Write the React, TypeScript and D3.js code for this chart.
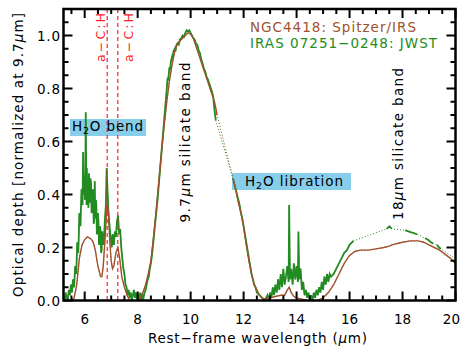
import React from "react";
import * as d3 from "d3";

// NGC4418 Spitzer/IRS optical depth spectrum: [wavelength µm, tau]
const ngcA: [number, number][] = [
  [5.5, 0.0], [5.6, 0.01], [5.7, 0.06], [5.8, 0.16], [5.9, 0.21], [6.0, 0.23], [6.1, 0.24],
  [6.2, 0.235], [6.3, 0.225], [6.35, 0.21], [6.4, 0.19], [6.5, 0.13], [6.6, 0.09], [6.65, 0.09],
  [6.7, 0.13], [6.78, 0.25], [6.85, 0.37], [6.9, 0.33], [6.95, 0.22], [7.0, 0.15], [7.05, 0.12],
  [7.1, 0.13], [7.18, 0.18], [7.25, 0.2], [7.32, 0.16], [7.4, 0.09], [7.5, 0.05], [7.6, 0.02],
  [7.7, 0.0], [7.9, -0.005], [8.0, 0.0], [8.1, 0.01], [8.2, 0.03], [8.3, 0.06], [8.4, 0.1],
  [8.5, 0.15], [8.6, 0.24], [8.7, 0.34], [8.8, 0.45], [8.9, 0.56], [9.0, 0.66], [9.1, 0.75],
  [9.2, 0.83], [9.3, 0.89], [9.4, 0.94], [9.5, 0.97], [9.6, 0.98], [9.7, 0.99], [9.8, 1.0],
  [9.9, 1.01], [10.0, 1.005], [10.1, 0.99], [10.2, 0.96], [10.3, 0.93], [10.4, 0.9], [10.5, 0.87],
  [10.6, 0.84], [10.7, 0.81], [10.8, 0.78], [10.9, 0.75], [11.0, 0.7],
];
const ngcB: [number, number][] = [
  [11.6, 0.46], [11.7, 0.42], [11.8, 0.37], [11.9, 0.33], [12.0, 0.28], [12.1, 0.21], [12.2, 0.15],
  [12.3, 0.1], [12.4, 0.06], [12.5, 0.04], [12.6, 0.02], [12.7, 0.01], [12.8, 0.005], [13.0, 0.01],
  [13.2, 0.015], [13.4, 0.02], [13.55, 0.02], [13.65, 0.04], [13.72, 0.05], [13.8, 0.03],
  [13.9, 0.015], [14.0, 0.01], [14.2, 0.005], [14.4, 0.0], [14.6, -0.003], [14.8, 0.0], [15.0, 0.01],
  [15.2, 0.03], [15.4, 0.06], [15.6, 0.1], [15.8, 0.14], [16.0, 0.17], [16.2, 0.185], [16.4, 0.19],
  [16.7, 0.19], [17.0, 0.195], [17.3, 0.2], [17.5, 0.205], [17.6, 0.21], [17.8, 0.215],
  [18.0, 0.22], [18.3, 0.225], [18.6, 0.225], [18.8, 0.22], [19.0, 0.21], [19.2, 0.2],
  [19.4, 0.19], [19.6, 0.175], [19.8, 0.16], [20.0, 0.14],
];

// IRAS 07251-0248 JWST optical depth spectrum, solid (measured) stretches
const irasA: [number, number][] = [
  [5.2, 0.01], [5.24, 0.0], [5.28, 0.03], [5.32, 0.01], [5.36, 0.0], [5.4, 0.04], [5.44, 0.02],
  [5.48, 0.06], [5.52, 0.03], [5.56, 0.08], [5.6, 0.05], [5.64, 0.13], [5.68, 0.1], [5.72, 0.22],
  [5.76, 0.18], [5.8, 0.33], [5.84, 0.28], [5.88, 0.42], [5.92, 0.36], [5.94, 0.56], [5.96, 0.4],
  [6.0, 0.47], [6.01, 0.38], [6.02, 0.42], [6.04, 0.71], [6.06, 0.44], [6.07, 0.36], [6.08, 0.5],
  [6.1, 0.39], [6.12, 0.43], [6.14, 0.35], [6.16, 0.48], [6.18, 0.37], [6.2, 0.38], [6.22, 0.46],
  [6.24, 0.44], [6.26, 0.33], [6.28, 0.34], [6.3, 0.42], [6.32, 0.4], [6.34, 0.29], [6.36, 0.3],
  [6.38, 0.45], [6.4, 0.31], [6.42, 0.38], [6.44, 0.36], [6.46, 0.25], [6.48, 0.26], [6.5, 0.33],
  [6.52, 0.3], [6.54, 0.21], [6.56, 0.22], [6.58, 0.28], [6.6, 0.26], [6.62, 0.18], [6.64, 0.19],
  [6.66, 0.26], [6.68, 0.24], [6.72, 0.21], [6.76, 0.3], [6.8, 0.36], [6.83, 0.5], [6.86, 0.42],
  [6.9, 0.33], [6.94, 0.28], [6.98, 0.24], [7.02, 0.2], [7.06, 0.25], [7.1, 0.21], [7.14, 0.26],
  [7.18, 0.24], [7.22, 0.3], [7.26, 0.32], [7.3, 0.25], [7.34, 0.27], [7.38, 0.2], [7.42, 0.16],
  [7.46, 0.12], [7.5, 0.1], [7.54, 0.06], [7.58, 0.05], [7.62, 0.02], [7.66, 0.04], [7.7, 0.01],
  [7.74, 0.03], [7.78, 0.0], [7.82, 0.02], [7.86, 0.04], [7.9, 0.01], [7.94, 0.03], [7.98, 0.0],
  [8.02, 0.02], [8.06, 0.01], [8.1, 0.03], [8.14, 0.0], [8.18, 0.02], [8.22, 0.01], [8.26, 0.03],
  [8.3, 0.04], [8.34, 0.06], [8.38, 0.08], [8.42, 0.09], [8.46, 0.12], [8.5, 0.14], [8.55, 0.18],
  [8.6, 0.23], [8.65, 0.28], [8.7, 0.33], [8.75, 0.38], [8.8, 0.44], [8.85, 0.5], [8.9, 0.56],
  [8.95, 0.62], [9.0, 0.68], [9.05, 0.74], [9.1, 0.8], [9.13, 0.84], [9.15, 0.83], [9.2, 0.88],
  [9.23, 0.87], [9.25, 0.9], [9.3, 0.92], [9.33, 0.91], [9.35, 0.94], [9.4, 0.95], [9.43, 0.94],
  [9.45, 0.96], [9.5, 0.97], [9.55, 0.965], [9.6, 0.985], [9.65, 0.99], [9.7, 1.0], [9.75, 0.995],
  [9.8, 1.01], [9.85, 1.02], [9.9, 1.015], [9.95, 1.02], [10.0, 1.01], [10.05, 1.0], [10.1, 0.99],
  [10.15, 0.985], [10.2, 0.97], [10.25, 0.965], [10.3, 0.945], [10.35, 0.935], [10.4, 0.91],
  [10.45, 0.895], [10.5, 0.875], [10.55, 0.865], [10.6, 0.845], [10.65, 0.835], [10.7, 0.82],
  [10.75, 0.805], [10.8, 0.79], [10.85, 0.77], [10.9, 0.72], [10.95, 0.68],
];
const irasB: [number, number][] = [
  [11.6, 0.46], [11.65, 0.44], [11.7, 0.42], [11.75, 0.4], [11.8, 0.38], [11.85, 0.36], [11.9, 0.33],
  [11.95, 0.31], [12.0, 0.28], [12.05, 0.25], [12.1, 0.22], [12.15, 0.19], [12.2, 0.16],
  [12.25, 0.13], [12.3, 0.1], [12.35, 0.08], [12.4, 0.06], [12.45, 0.05], [12.5, 0.03], [12.6, 0.02],
  [12.7, 0.01], [12.8, 0.0], [12.9, 0.02], [12.95, 0.0], [13.0, 0.03], [13.05, 0.01], [13.1, 0.05],
  [13.15, 0.02], [13.2, 0.06], [13.25, 0.03], [13.3, 0.08], [13.35, 0.04], [13.4, 0.1], [13.45, 0.05],
  [13.5, 0.12], [13.55, 0.06], [13.6, 0.09], [13.65, 0.13], [13.7, 0.07], [13.72, 0.36],
  [13.75, 0.08], [13.8, 0.12], [13.85, 0.06], [13.9, 0.14], [13.95, 0.08], [14.0, 0.13],
  [14.05, 0.07], [14.07, 0.26], [14.1, 0.08], [14.15, 0.12], [14.2, 0.04], [14.25, 0.07],
  [14.3, 0.02], [14.35, 0.04], [14.4, 0.01], [14.45, 0.03], [14.5, 0.0], [14.55, 0.02], [14.6, 0.0],
  [14.65, 0.03], [14.7, 0.01], [14.75, 0.04], [14.8, 0.02], [14.85, 0.05], [14.9, 0.03],
  [14.95, 0.07], [15.0, 0.04], [15.05, 0.09], [15.1, 0.06], [15.15, 0.1], [15.2, 0.07],
  [15.25, 0.1], [15.3, 0.09], [15.4, 0.1], [15.5, 0.12], [15.6, 0.14], [15.7, 0.16], [15.8, 0.18],
  [15.9, 0.19], [16.0, 0.21], [16.1, 0.22], [16.15, 0.225],
];
const irasC: [number, number][] = [[17.4, 0.27], [17.45, 0.275], [17.5, 0.28], [17.55, 0.275], [17.6, 0.27]];
const irasD: [number, number][] = [[18.1, 0.265], [18.2, 0.262], [18.3, 0.258], [18.4, 0.255], [18.55, 0.25]];
const irasE: [number, number][] = [[18.85, 0.235], [18.95, 0.23], [19.05, 0.222], [19.15, 0.215]];
const irasF: [number, number][] = [[19.3, 0.21], [19.38, 0.2], [19.45, 0.195]];
const irasTail: [number, number][] = [[19.95, 0.16]];

const ngcSegments = [ngcA, ngcB];
const irasSegments = [irasA, irasB, irasC, irasD, irasE, irasF];

const xTicks = [6, 8, 10, 12, 14, 16, 18, 20];
const yTicks = [0, 0.2, 0.4, 0.6, 0.8, 1.0];
const achLines = [6.85, 7.25];

const W = 461;
const H = 349;
const L = 63.5, R = 455.5, T = 9, B = 300.5;
const BROWN = "#a0522d";
const GREEN = "#228b22";
const RED = "#ff2020";
const BLUE = "#87ceeb";
const FONT = "DejaVu Sans, sans-serif";

export default function App() {
  const x = d3.scaleLinear().domain([5.2, 20]).range([L, R]);
  const y = d3.scaleLinear().domain([0, 1.1]).range([B, T]);
  const line = d3.line<[number, number]>().x((d) => x(d[0])).y((d) => y(d[1]));

  const ngcAll = ngcSegments.flat();
  const irasAll = [...irasSegments.flat(), ...irasTail];

  const xMinor = d3.range(5.5, 20, 0.5).filter((v) => Math.abs(v % 2) > 1e-6);
  const yMinor = d3.range(0.05, 1.1, 0.05).filter((v) => !yTicks.some((t) => Math.abs(t - v) < 1e-6));

  return (
    <svg width={W} height={H} style={{ position: "absolute", left: 0, top: 0, background: "#fff" }} fontFamily={FONT}>
      <defs>
        <clipPath id="plot">
          <rect x={L} y={T} width={R - L} height={B - T} />
        </clipPath>
      </defs>

      {/* feature boxes */}
      <rect x={70} y={119} width={76} height={17} fill={BLUE} />
      <rect x={232} y={173} width={119} height={17} fill={BLUE} />

      <g clipPath="url(#plot)" fill="none">
        <path d={line(ngcAll) ?? ""} stroke={BROWN} strokeWidth={1} strokeDasharray="1,2" />
        <path d={line(irasAll) ?? ""} stroke={GREEN} strokeWidth={1} strokeDasharray="1,2" />
        {irasSegments.map((s, i) => (
          <path key={"g" + i} d={line(s) ?? ""} stroke={GREEN} strokeWidth={1.8} />
        ))}
        {ngcSegments.map((s, i) => (
          <path key={"b" + i} d={line(s) ?? ""} stroke={BROWN} strokeWidth={1.4} />
        ))}
        {achLines.map((v) => (
          <line key={v} x1={x(v)} x2={x(v)} y1={T} y2={B} stroke={RED} strokeWidth={1.2} strokeDasharray="4,3" />
        ))}
      </g>

      {/* a-C:H labels */}
      <text transform={`translate(105,37.5) rotate(-90)`} textAnchor="middle" fontSize={12.5} fill={RED} textLength={49} lengthAdjust="spacing">a−C:H</text>
      <text transform={`translate(133,37.5) rotate(-90)`} textAnchor="middle" fontSize={12.5} fill={RED} textLength={49} lengthAdjust="spacing">a−C:H</text>

      {/* feature labels */}
      <text x={72} y={131} fontSize={13.5} fill="#000" textLength={71} lengthAdjust="spacing">
        H<tspan fontSize={9.5} dy={3}>2</tspan><tspan dy={-3}>O bend</tspan>
      </text>
      <text x={245} y={186} fontSize={13.5} fill="#000" textLength={98} lengthAdjust="spacing">
        H<tspan fontSize={9.5} dy={3}>2</tspan><tspan dy={-3}>O libration</tspan>
      </text>
      <text transform={`translate(190,142.5) rotate(-90)`} textAnchor="middle" fontSize={13.5} textLength={160} lengthAdjust="spacing">
        9.7<tspan fontStyle="italic">μ</tspan>m silicate band
      </text>
      <text transform={`translate(403,144) rotate(-90)`} textAnchor="middle" fontSize={13.5} textLength={152} lengthAdjust="spacing">
        18<tspan fontStyle="italic">μ</tspan>m silicate band
      </text>

      {/* legend */}
      <text x={250} y={32} fontSize={13.5} fill={BROWN} textLength={166} lengthAdjust="spacing">NGC4418: Spitzer/IRS</text>
      <text x={250} y={48} fontSize={13.5} fill={GREEN} textLength={187} lengthAdjust="spacing">IRAS 07251−0248: JWST</text>

      {/* axes frame and ticks */}
      <g stroke="#000" strokeWidth={2}>
        {xTicks.map((v) => (
          <g key={"xt" + v}>
            <line x1={x(v)} x2={x(v)} y1={B} y2={B - 9} />
            <line x1={x(v)} x2={x(v)} y1={T} y2={T + 9} />
          </g>
        ))}
        {xMinor.map((v) => (
          <g key={"xm" + v}>
            <line x1={x(v)} x2={x(v)} y1={B} y2={B - 5} />
            <line x1={x(v)} x2={x(v)} y1={T} y2={T + 5} />
          </g>
        ))}
        {yTicks.map((v) => (
          <g key={"yt" + v}>
            <line x1={L} x2={L + 9} y1={y(v)} y2={y(v)} />
            <line x1={R} x2={R - 9} y1={y(v)} y2={y(v)} />
          </g>
        ))}
        {yMinor.map((v) => (
          <g key={"ym" + v}>
            <line x1={L} x2={L + 5} y1={y(v)} y2={y(v)} />
            <line x1={R} x2={R - 5} y1={y(v)} y2={y(v)} />
          </g>
        ))}
      </g>
      <rect x={L} y={T} width={R - L} height={B - T} fill="none" stroke="#000" strokeWidth={2.5} />

      {/* tick labels (the last one kept inside the page edge) */}
      {xTicks.map((v, i) => (
        <text
          key={"xl" + v}
          x={i === xTicks.length - 1 ? W - 1 : x(v)}
          y={324}
          textAnchor={i === xTicks.length - 1 ? "end" : "middle"}
          fontSize={13.5}
        >
          {v}
        </text>
      ))}
      {yTicks.map((v) => (
        <text key={"yl" + v} x={60} y={y(v) + 5} textAnchor="end" fontSize={13.5} textLength={23} lengthAdjust="spacing">{v.toFixed(1)}</text>
      ))}

      {/* axis titles */}
      <text x={257.5} y={343} textAnchor="middle" fontSize={13.5} textLength={219} lengthAdjust="spacing">
        Rest−frame wavelength (<tspan fontStyle="italic">μ</tspan>m)
      </text>
      <text transform={`translate(23,155) rotate(-90)`} textAnchor="middle" fontSize={13.5} textLength={284} lengthAdjust="spacing">
        Optical depth [normalized at 9.7<tspan fontStyle="italic">μ</tspan>m]
      </text>
    </svg>
  );
}
